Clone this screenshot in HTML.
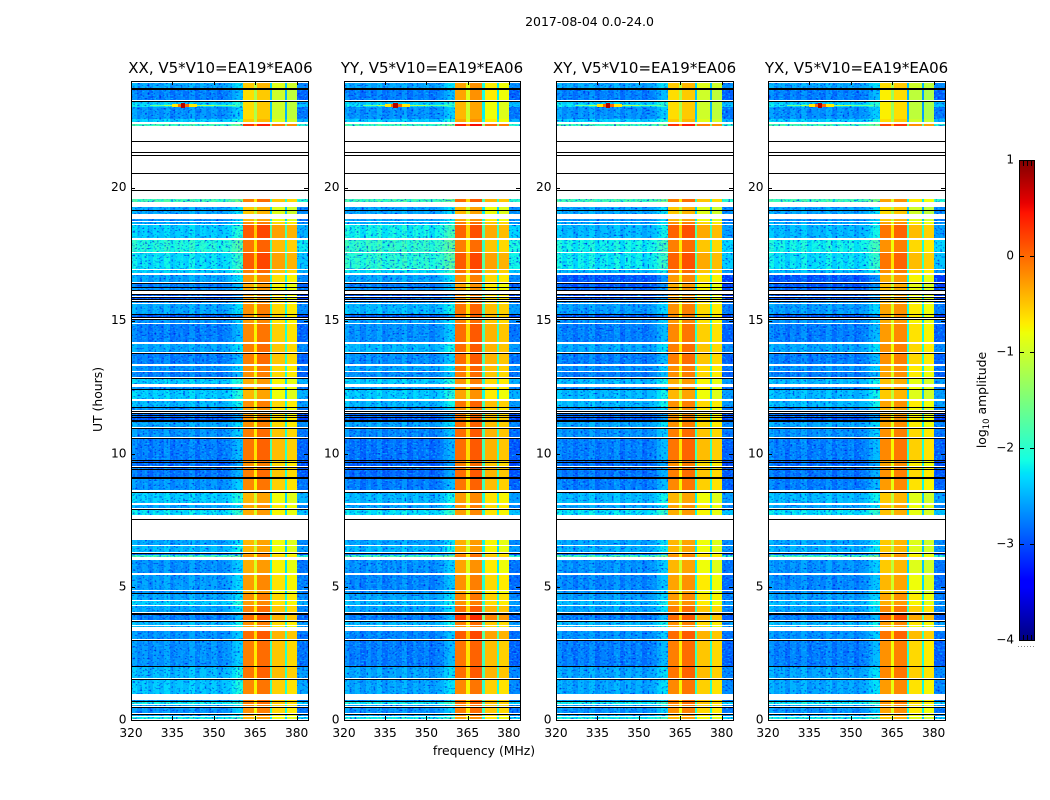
<!DOCTYPE html>
<html>
<head>
<meta charset="utf-8">
<title>2017-08-04 amplitude spectrogram</title>
<style>
html,body{margin:0;padding:0;background:#fff;}
svg{display:block;}
text{font-family:"DejaVu Sans","Liberation Sans",sans-serif;fill:#000;}
</style>
</head>
<body>
<svg id="chart" xmlns="http://www.w3.org/2000/svg" width="1050" height="800" viewBox="0 0 1050 800">
  <defs>
    <filter id="speckle" x="0" y="0" width="1050" height="800" filterUnits="userSpaceOnUse" color-interpolation-filters="sRGB">
      <feTurbulence type="fractalNoise" baseFrequency="0.42 0.6" numOctaves="1" seed="4" result="n"/>
      <feColorMatrix in="n" type="matrix" values="0 0 0 0 0  0 0 0 0 0.12  0 0 0 0 0.9  4 0 0 0 -2.2" result="dark"/>
      <feColorMatrix in="n" type="matrix" values="0 0 0 0 0  0 0 0 0 0.75  0 0 0 0 1  0 4 0 0 -2.2" result="light"/>
      <feMerge result="m">
        <feMergeNode in="SourceGraphic"/>
        <feMergeNode in="dark"/>
        <feMergeNode in="light"/>
      </feMerge>
      <feComposite in="m" in2="SourceAlpha" operator="in"/>
    </filter>
  </defs>
  <rect width="1050" height="800" fill="#fff"/>
  <text x="589.5" y="26" font-size="12.5" text-anchor="middle">2017-08-04 0.0-24.0</text>
  <text x="484" y="755" font-size="12.4" text-anchor="middle">frequency (MHz)</text>
  <text transform="translate(102,399.5) rotate(-90)" font-size="12.4" text-anchor="middle">UT (hours)</text>
  <text transform="translate(986,400) rotate(-90)" font-size="12.4" text-anchor="middle">log<tspan font-size="8.5" dy="3">10</tspan><tspan dy="-3"> amplitude</tspan></text>
  <g id="colorbar-group"></g>
  <g id="panels"></g>
</svg>
<script>
// ---------- categories ----------
const polarisations = ["XX", "YY", "XY", "YX"];
const baseline = "V5*V10=EA19*EA06";
const freqTicks = [320, 335, 350, 365, 380];
const utTicks = [0, 5, 10, 15, 20];
const colorbarTicks = [1, 0, -1, -2, -3, -4];

// ---------- frequency channels (MHz) ----------
const lowFreqEdges = [320,322,324,326,328,330,332,334,336,338,339,341,343,345,347,349,351,353,355,356.5,358,360.4];
const highFreqEdges = [360.4,364.6,365.8,370.4,371.2,375.6,376.4,380];
const tailFreqEdges = [380,384.1];

// ---------- time rows (UT hours), top of plot to bottom; gaps stay white ----------
const rowEndUT = [
23.92,23.70,23.25,23.14,23.02,22.57,22.40,19.57,19.26,18.82,
18.70,18.60,18.03,17.54,16.90,16.73,16.41,16.26,16.00,15.89,
15.74,15.61,15.23,15.02,14.87,14.14,13.78,13.30,13.08,12.85,
12.51,12.42,11.98,11.72,11.61,11.53,11.44,11.35,11.24,10.97,
10.60,9.74,9.50,9.09,8.56,8.08,7.89,6.77,6.52,6.25,
6.21,6.01,5.43,4.83,4.74,4.47,4.29,3.97,3.72,3.52,
3.33,2.99,2.00,1.53,0.76,0.69,0.58,0.48,0.19,0.12];
const rowStartUT = [
23.75,23.27,23.14,23.02,22.59,22.46,22.31,19.44,19.00,18.74,
18.64,18.10,17.58,16.94,16.80,16.44,16.27,16.15,15.91,15.81,
15.68,15.25,15.10,14.91,14.20,13.81,13.37,13.11,12.88,12.61,
12.43,12.07,11.77,11.64,11.55,11.46,11.38,11.27,10.99,10.63,
9.77,9.54,9.12,8.64,8.14,7.95,7.69,6.57,6.30,6.21,
6.12,5.51,4.88,4.77,4.51,4.33,4.04,3.74,3.57,3.48,
3.03,2.04,1.57,0.97,0.71,0.61,0.51,0.25,0.14,0.03];

// ---------- flagged samples, drawn black (UT hours) ----------
const flagUT = [23.74,23.71,23.26,21.76,21.73,21.34,21.21,20.53,19.89,19.17,16.43,16.27,16.15,16.01,15.90,15.80,15.74,15.24,15.15,15.12,15.06,13.80,12.86,12.42,11.75,11.62,11.54,11.45,11.37,11.26,11.24,10.98,10.61,9.76,9.68,9.51,9.44,9.11,9.08,8.57,7.93,7.91,7.56,6.28,4.77,4.03,3.98,3.73,3.01,2.03,1.55,0.70,0.50,0.23,0.21];

// ---------- log10 amplitude per row: low band (320-360 MHz) ----------
const lowXX = [
-2.6,-2.8,-2.4,-2.3,-2.7,-2.4,-1.9,-1.9,-2.6,-2.7,
-2.6,-2.4,-2.1,-2.3,-2.4,-2.6,-2.8,-2.7,-3.0,-3.0,
-2.7,-2.6,-3.0,-2.7,-2.8,-2.6,-2.8,-2.7,-2.8,-2.4,
-2.7,-2.4,-2.5,-2.7,-2.9,-2.9,-2.9,-3.0,-2.6,-2.7,
-2.8,-2.9,-2.85,-2.7,-2.4,-2.6,-2.3,-2.6,-2.5,-2.9,
-1.9,-2.7,-2.65,-2.7,-2.6,-2.4,-2.6,-2.8,-2.5,-2.5,
-2.7,-2.7,-2.5,-2.45,-2.7,-2.2,-2.6,-2.7,-2.6,-2.2];
const lowYY = [
-2.6,-2.8,-2.4,-2.3,-2.7,-2.4,-1.9,-1.9,-2.6,-2.6,
-2.5,-2.2,-2.0,-2.05,-2.3,-2.6,-2.8,-2.7,-3.0,-2.95,
-2.7,-2.5,-2.95,-2.6,-2.7,-2.5,-2.7,-2.6,-2.7,-2.4,
-2.6,-2.4,-2.5,-2.7,-2.9,-2.9,-2.9,-3.0,-2.6,-2.75,
-2.85,-2.95,-2.9,-2.8,-2.5,-2.6,-2.3,-2.6,-2.5,-2.9,
-1.9,-2.7,-2.75,-2.7,-2.6,-2.5,-2.6,-2.8,-2.5,-2.5,
-2.75,-2.8,-2.6,-2.6,-2.7,-2.2,-2.6,-2.7,-2.6,-2.2];
const lowXY = [
-2.6,-2.8,-2.4,-2.3,-2.7,-2.4,-1.9,-1.9,-2.6,-2.7,
-2.6,-2.5,-2.2,-2.25,-2.5,-3.0,-3.0,-2.9,-3.0,-3.0,
-2.7,-2.65,-3.0,-2.7,-2.8,-2.6,-2.8,-2.7,-2.8,-2.5,
-2.7,-2.5,-2.5,-2.7,-2.9,-2.9,-2.9,-3.0,-2.6,-2.7,
-2.8,-2.9,-2.85,-2.8,-2.5,-2.6,-2.3,-2.6,-2.55,-2.9,
-1.9,-2.7,-2.75,-2.7,-2.65,-2.5,-2.6,-2.8,-2.5,-2.5,
-2.7,-2.8,-2.6,-2.6,-2.7,-2.2,-2.6,-2.7,-2.6,-2.2];
const lowYX = [
-2.6,-2.8,-2.4,-2.3,-2.7,-2.4,-1.9,-1.9,-2.6,-2.7,
-2.6,-2.5,-2.2,-2.3,-2.5,-3.0,-3.0,-2.9,-3.0,-3.0,
-2.7,-2.65,-3.0,-2.7,-2.8,-2.6,-2.8,-2.7,-2.8,-2.5,
-2.7,-2.5,-2.5,-2.7,-2.9,-2.9,-2.9,-3.0,-2.6,-2.7,
-2.8,-2.9,-2.85,-2.8,-2.5,-2.6,-2.3,-2.6,-2.55,-2.9,
-1.9,-2.7,-2.75,-2.7,-2.65,-2.5,-2.6,-2.8,-2.5,-2.5,
-2.7,-2.8,-2.6,-2.6,-2.7,-2.2,-2.6,-2.7,-2.6,-2.2];

// ---------- log10 amplitude per row: bright band (360-380 MHz) ----------
const highXX = [
-.4,-.5,-.5,-.5,-.5,-.4,.4,0,-.4,-.3,
-.1,.2,.05,.2,0,-.15,-.25,-.25,-.2,-.2,
-.2,-.1,-.1,-.15,-.05,0,0,-.1,-.1,-.25,
-.2,-.3,-.1,-.2,-.1,-.2,-.1,-.1,-.1,0,
.05,-.1,0,-.05,-.3,-.2,-.25,-.3,-.3,-.2,
-.1,-.25,-.15,-.3,-.1,-.15,0,.1,-.1,-.2,
.1,0,.05,-.05,0,0,-.1,-.1,-.2,-.3];
const highYY = [
-.2,-.2,-.3,-.3,-.3,-.2,.5,.1,-.3,-.2,
0,.15,0,.2,.05,-.1,-.2,-.2,-.1,-.1,
-.1,.05,.05,0,.1,.1,.1,.05,0,-.1,
-.1,-.2,.05,-.1,.05,0,.05,.05,.05,.1,
.1,0,.1,.05,-.15,-.1,-.15,-.25,-.25,-.1,
0,-.2,-.1,-.2,-.05,-.1,.1,.35,0,-.1,
.2,.05,.1,-.05,.05,.05,0,0,-.1,-.2];
const highXY = [
-.4,-.5,-.5,-.5,-.5,-.4,.4,0,-.4,-.3,
-.1,.15,0,.15,0,-.15,-.25,-.25,-.2,-.2,
-.2,-.1,-.1,-.15,-.05,0,0,-.1,-.1,-.25,
-.2,-.3,-.1,-.2,-.1,-.2,-.1,-.1,-.1,0,
.05,-.1,0,-.05,-.3,-.2,-.25,-.3,-.3,-.2,
-.1,-.3,-.2,-.3,-.15,-.2,0,.1,-.1,-.2,
.1,0,.05,-.05,0,0,-.1,-.1,-.2,-.3];
const highYX = [
-.5,-.6,-.6,-.6,-.6,-.5,.3,-.2,-.5,-.4,
-.2,.05,-.1,.05,-.1,-.25,-.35,-.35,-.3,-.3,
-.3,-.2,-.2,-.25,-.15,-.1,-.1,-.2,-.2,-.35,
-.3,-.4,-.2,-.3,-.2,-.3,-.2,-.2,-.2,-.1,
-.05,-.2,-.1,-.15,-.4,-.3,-.35,-.4,-.4,-.3,
-.2,-.4,-.3,-.4,-.2,-.25,-.05,.15,-.15,-.3,
.05,-.1,-.05,-.15,-.1,-.1,-.2,-.2,-.3,-.4];

// ---------- channel offsets read per band ----------
const lowProfile = [.15,0,.1,-.05,.1,0,.15,-.05,.05,.1,0,.15,-.05,.1,0,.1,-.05,.05,.1,.25,.35];
const highProfile = [-.12,-.7,-.02,-1.9,-.5,-2.0,-.6];
const tailProfile = [-.1];

// ---------- narrowband burst near 23 UT ----------
const burstUT = 23.08;
const burstEdges = [327,332,335,337,338,339.6,341,344,350,358];
const burstLevel = [-1.6,-1.2,-.7,0,.8,0,-.7,-1.2,-1.6];
const burstHalfUT = [.03,.03,.04,.05,.09,.05,.04,.03,.03];

// ---------- layout ----------
const SVGNS = "http://www.w3.org/2000/svg";
const panelLefts = [131, 344, 556, 768];
const panelWidths = [177, 176, 177, 177];
const titleShifts = [1, 0, 0, 0];
const plotTop = 81, plotBottom = 720;
const lows = [lowXX, lowYY, lowXY, lowYX];
const highs = [highXX, highYY, highXY, highYX];

function freqX(f, p) { return panelLefts[p] + (f - 320) * panelWidths[p] / 64.1; }
function utY(u) { return plotBottom - u * (plotBottom - plotTop) / 24; }
function interp(v, pts) {
  for (let i = 1; i < pts.length; i++) {
    if (v <= pts[i][0]) {
      const t = (v - pts[i-1][0]) / ((pts[i][0] - pts[i-1][0]) || 1);
      return pts[i-1][1] + t * (pts[i][1] - pts[i-1][1]);
    }
  }
  return pts[pts.length-1][1];
}
function jet(val) {
  const v = Math.min(1, Math.max(0, (val + 4) / 5));
  const r = interp(v, [[0,0],[.35,0],[.66,1],[.89,1],[1,.5]]);
  const g = interp(v, [[0,0],[.125,0],[.375,1],[.64,1],[.91,0],[1,0]]);
  const b = interp(v, [[0,.5],[.11,1],[.34,1],[.65,0],[1,0]]);
  return "rgb(" + Math.round(r*255) + "," + Math.round(g*255) + "," + Math.round(b*255) + ")";
}
function mk(tag, parent, attrs) {
  const el = document.createElementNS(SVGNS, tag);
  for (const k in attrs) el.setAttribute(k, attrs[k]);
  parent.appendChild(el);
  return el;
}
function cell(parent, p, f0, f1, u1, u0, val) {
  const x0 = Math.round(freqX(f0, p)), x1 = Math.round(freqX(f1, p));
  const y0 = Math.round(utY(u1)), y1 = Math.round(utY(u0));
  const r = mk("rect", parent, {x: x0, y: y0, width: Math.max(1, x1 - x0), height: Math.max(1, y1 - y0), fill: jet(val)});
  
  
}

// ---------- colorbar ----------
const barX = 1019, barW = 16, barTop = 160, barBottom = 640;
function barY(v) { return barBottom - (v + 4) * (barBottom - barTop) / 5; }
const barGroup = document.getElementById("colorbar-group");


const barRamp = mk("g", barGroup, {"shape-rendering": "crispEdges"});


for (let py = barTop; py < barBottom; py++) {
  const level = -4 + (barBottom - py - .5) * 5 / (barBottom - barTop);
  mk("rect", barRamp, {x: barX, y: py, width: barW, height: 1, fill: jet(level)});
}
const barFrame = mk("rect", barGroup, {x: barX + .5, y: barTop + .5, width: barW - 1, height: barBottom - barTop, fill: "none", stroke: "#000", "shape-rendering": "crispEdges"});


for (const tv of colorbarTicks) {
  const ty = Math.round(barY(tv)) + .5;
  const barTick = mk("path", barGroup, {d: "M" + barX + " " + ty + "h5M" + (barX + barW) + " " + ty + "h-5", stroke: "#000", fill: "none", "shape-rendering": "crispEdges"});
  
  
  const barLabel = mk("text", barGroup, {x: barX - 5, y: barY(tv) + 3.5, "font-size": 12, "text-anchor": "end"});
  barLabel.textContent = tv < 0 ? "\u2212" + Math.abs(tv) : String(tv);
  
  
}
const barMinor = mk("path", barGroup, {d: "M1023.5 161v5M1027.5 161v5M1031.5 161v5M1023.5 640v-5M1027.5 640v-5M1031.5 640v-5", stroke: "#000", fill: "none", "shape-rendering": "crispEdges"});


const barDots = mk("path", barGroup, {d: "M1018 646.5H1035", stroke: "#888", "stroke-dasharray": "1 2", fill: "none", "shape-rendering": "crispEdges"});



// ---------- panels ----------
const panelsRoot = document.getElementById("panels");
polarisations.forEach((pol, p) => {
  const left = panelLefts[p];
  const width = panelWidths[p];
  const g = mk("g", panelsRoot, {"shape-rendering": "crispEdges"});
  
  
  const lowGroup = mk("g", g, {filter: "url(#speckle)"});
  
  

  rowEndUT.forEach((end, r) => {
    const start = rowStartUT[r];
    for (let c = 0; c < lowFreqEdges.length - 1; c++) {
      cell(lowGroup, p, lowFreqEdges[c], lowFreqEdges[c+1], end, start, lows[p][r] + lowProfile[c]);
    }
    cell(lowGroup, p, tailFreqEdges[0], tailFreqEdges[1], end, start, lows[p][r] + tailProfile[0]);
    for (let c = 0; c < highFreqEdges.length - 1; c++) {
      cell(g, p, highFreqEdges[c], highFreqEdges[c+1], end, start, highs[p][r] + highProfile[c]);
    }
  });

  burstLevel.forEach((lvl, i) => {
    cell(g, p, burstEdges[i], burstEdges[i+1], burstUT + burstHalfUT[i], burstUT - burstHalfUT[i], lvl);
  });

  flagUT.forEach((u) => {
    const line = mk("rect", g, {x: left, y: Math.round(utY(u)), width: width, height: 1, fill: "#000"});
    
    
  });

  const frame = mk("rect", g, {x: left + .5, y: plotTop + .5, width: width, height: plotBottom - plotTop, fill: "none", stroke: "#000", "stroke-width": 1});
  
  

  freqTicks.forEach((f) => {
    const x = Math.round(freqX(f, p)) + .5;
    const t1 = mk("path", g, {d: "M" + x + " " + plotTop + "v4M" + x + " " + plotBottom + "v-4", stroke: "#000", fill: "none"});
    
    
    const xLabel = mk("text", panelsRoot, {x: freqX(f, p), y: 737, "font-size": 12.2, "text-anchor": "middle"});
    xLabel.textContent = f;
    
    
  });
  utTicks.forEach((u) => {
    const y = Math.round(utY(u)) + .5;
    const t2 = mk("path", g, {d: "M" + left + " " + y + "h4M" + (left + width) + " " + y + "h-4", stroke: "#000", fill: "none"});
    
    
    const yLabel = mk("text", panelsRoot, {x: left - 4.5, y: utY(u) + 3.5, "font-size": 12.2, "text-anchor": "end"});
    yLabel.textContent = u;
    
    
  });

  const title = mk("text", panelsRoot, {x: left + width / 2 + titleShifts[p], y: 73, "font-size": 15, "text-anchor": "middle"});
  title.textContent = pol + ", " + baseline;
  
  
});
</script>
</body>
</html>
